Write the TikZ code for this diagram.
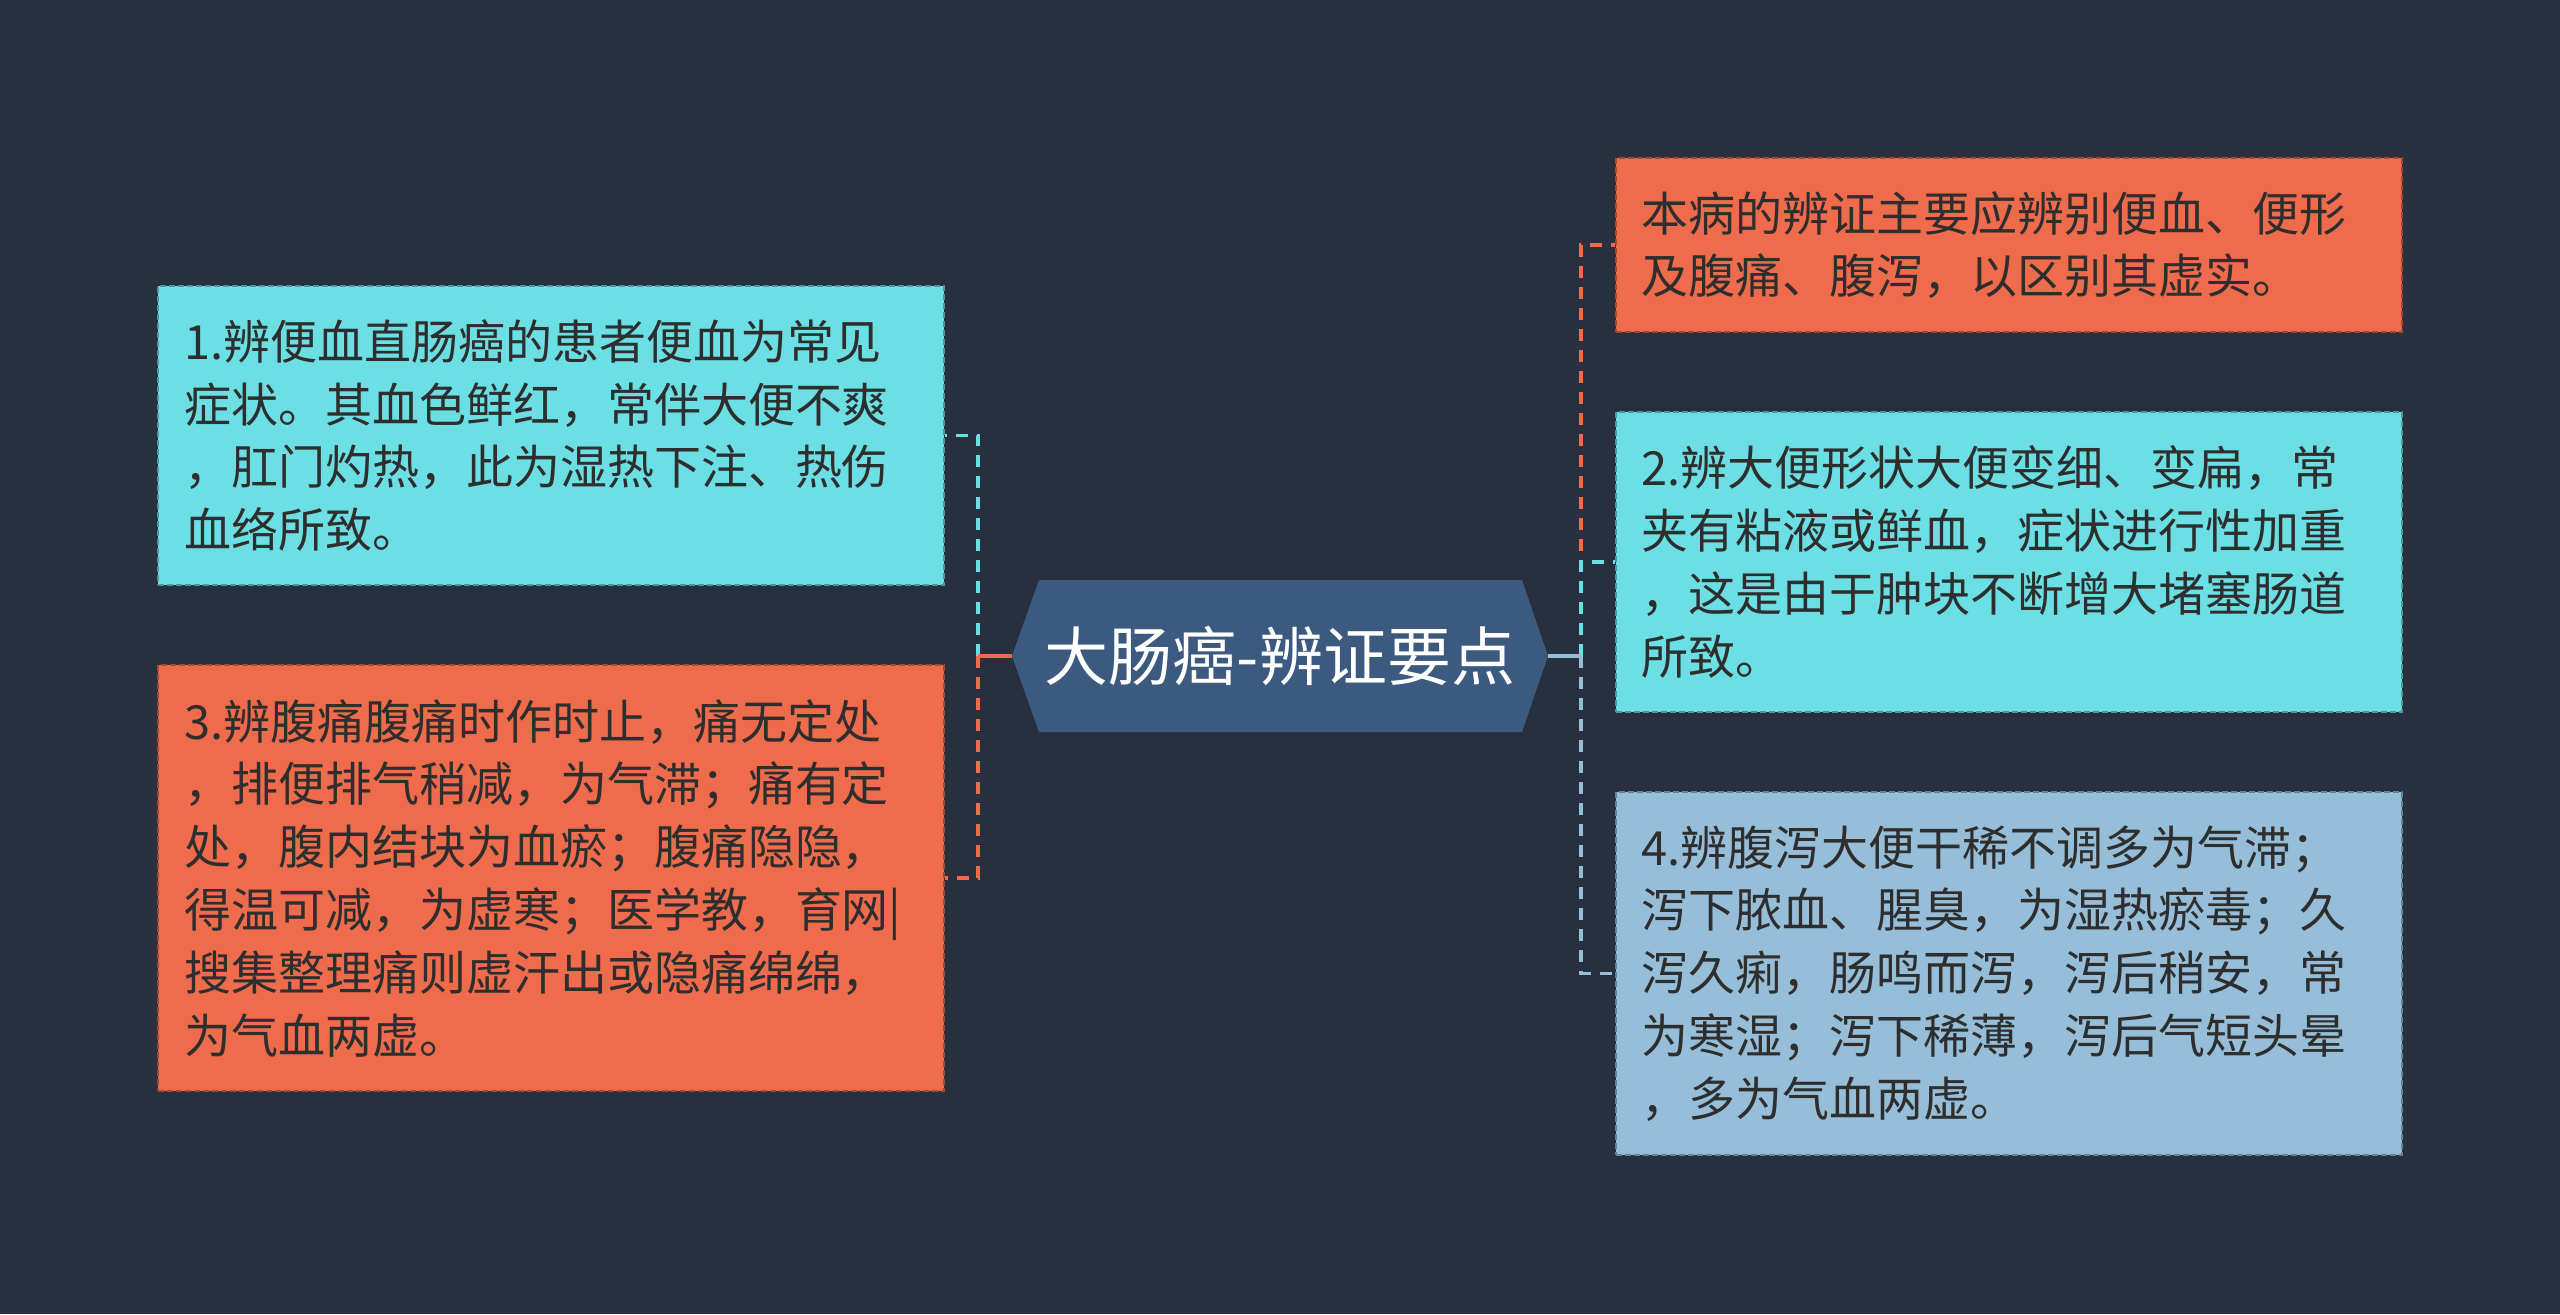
\documentclass[tikz,border=0pt]{standalone}
\usepackage{fontspec}
\setmainfont{Noto Sans CJK SC}
\usetikzlibrary{calc}
\definecolor{bg}{HTML}{283040}
\definecolor{cyanc}{HTML}{6BDFE4}
\definecolor{orangec}{HTML}{EE6B4C}
\definecolor{bluec}{HTML}{96BED8}
\definecolor{hexc}{HTML}{3C5A7F}
\definecolor{txt}{HTML}{2E2E2E}
\newcommand{\boxfont}{\fontsize{23.5pt}{31.4pt}\selectfont}
\newcommand{\hubfont}{\fontsize{32pt}{38pt}\selectfont}
\tikzset{
  box/.style={draw=#1!68!black, fill=#1, dash pattern=on 3pt off 1.5pt, line width=1pt,
    minimum width=393pt, inner xsep=13pt, inner ysep=0pt, text width=367pt, align=left,
    text=txt, font=\boxfont},
  link/.style={draw=#1, line width=1.9pt, dash pattern=on 6pt off 4.5pt},
  stem/.style={draw=#1, line width=1.9pt},
}
\begin{document}
\begin{tikzpicture}[x=0.5pt,y=-0.5pt]
\fill[bg] (0,0) rectangle (2560,1314);
\useasboundingbox (0,0) rectangle (2560,1314);
% hub
\coordinate (hexL) at (1012,656);
\coordinate (hexR) at (1548,656);
\fill[hexc] (1039,580) -- (1522,580) -- (hexR) -- (1522,732) -- (1039,732) -- (hexL) -- cycle;
\node[text=white, font=\hubfont, inner sep=0pt] (hub) at (1280,656) {大肠癌-辨证要点};
% left boxes
\node[box=cyanc, minimum height=149.5pt] (b1) at (551,435.5) {1.辨便血直肠癌的患者便血为常见\\症状。其血色鲜红，常伴大便不爽\\，肛门灼热，此为湿热下注、热伤\\血络所致。};
\node[box=orangec, minimum height=213pt] (b3) at (551,878) {3.辨腹痛腹痛时作时止，痛无定处\\，排便排气稍减，为气滞；痛有定\\处，腹内结块为血瘀；腹痛隐隐，\\得温可减，为虚寒；医学教，育网|\\搜集整理痛则虚汗出或隐痛绵绵，\\为气血两虚。};
% right boxes
\node[box=orangec, minimum height=87pt] (bA) at (2008.5,245) {本病的辨证主要应辨别便血、便形\\及腹痛、腹泻，以区别其虚实。};
\node[box=cyanc, minimum height=150pt] (b2) at (2008.5,562) {2.辨大便形状大便变细、变扁，常\\夹有粘液或鲜血，症状进行性加重\\，这是由于肿块不断增大堵塞肠道\\所致。};
\node[box=bluec, minimum height=181.5pt] (b4) at (2008.5,973.5) {4.辨腹泻大便干稀不调多为气滞；\\泻下脓血、腥臭，为湿热瘀毒；久\\泻久痢，肠鸣而泻，泻后稍安，常\\为寒湿；泻下稀薄，泻后气短头晕\\，多为气血两虚。};
% connectors
\coordinate (lj) at (978,656);
\coordinate (rj) at (1581,656);
\draw[link=cyanc] (lj) |- (b1.east);
\draw[link=orangec] (lj) |- (b3.east);
\draw[stem=orangec] (hexL) -- (lj);
\draw[link=orangec] (rj) |- (bA.west);
\draw[link=cyanc] (rj) |- (b2.west);
\draw[link=bluec] (rj) |- (b4.west);
\draw[stem=bluec] (hexR) -- (rj);
\end{tikzpicture}
\end{document}
